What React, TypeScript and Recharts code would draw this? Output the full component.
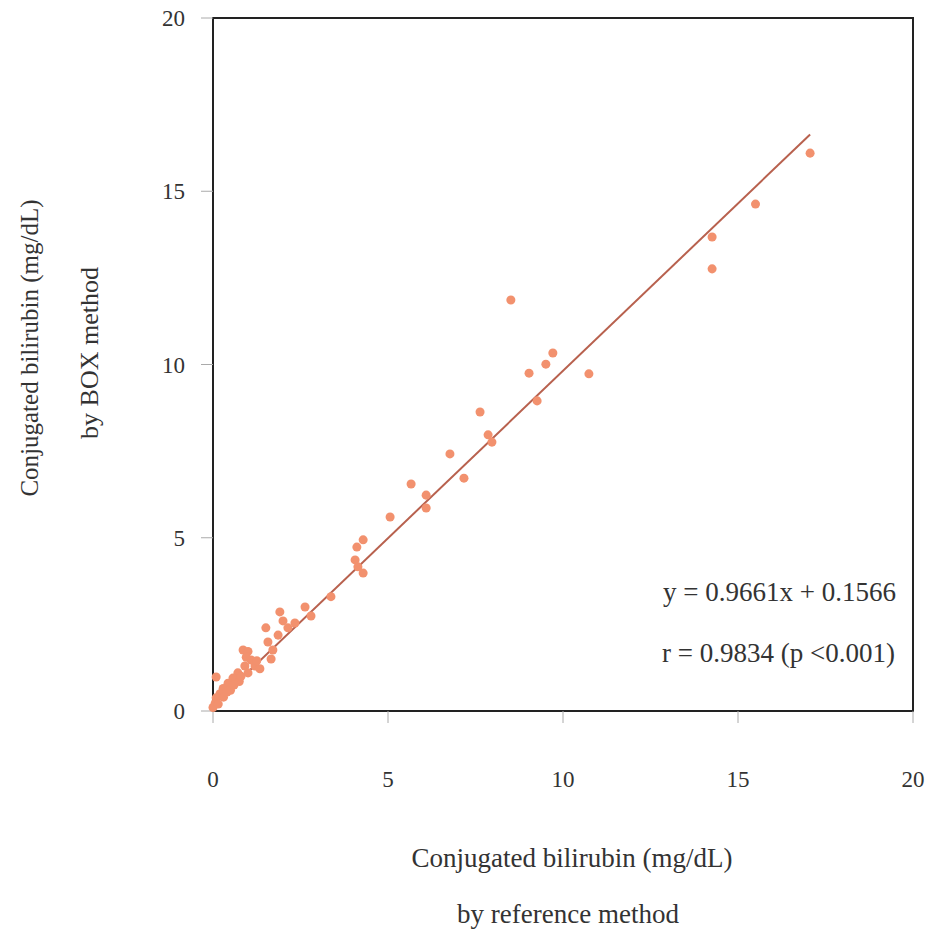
import React from 'react';
import {
  ScatterChart, Scatter, XAxis, YAxis, ZAxis, ReferenceArea, ReferenceLine,
} from 'recharts';

// reference method (x) vs BOX method (y), mg/dL
const refMethod = [
  17.06, 15.5, 14.26, 14.26, 10.74, 9.71, 9.51, 9.26, 9.03, 8.51,
  7.97, 7.86, 7.63, 7.17, 6.77, 6.09, 6.09, 5.66, 5.06, 4.29,
  4.11, 4.06, 4.14, 4.29, 3.37, 2.63, 2.8, 1.91, 2.0, 2.34,
  2.14, 1.51, 1.86, 1.57, 1.71, 1.66, 0.86, 1.0, 1.09, 1.2,
  1.34, 0.91, 0.71, 0.57, 0.43, 0.29, 0.2, 0.09, 0.06, 0.0,
  0.09, 0.15, 0.3, 0.5, 0.75, 1.0, 0.6, 0.4, 0.95, 1.25, 0.8,
];
const boxMethod = [
  16.1, 14.63, 13.68, 12.76, 9.73, 10.33, 10.01, 8.95, 9.75, 11.86,
  7.76, 7.97, 8.63, 6.72, 7.42, 6.23, 5.86, 6.55, 5.6, 4.94,
  4.73, 4.36, 4.16, 3.98, 3.3, 3.0, 2.74, 2.86, 2.6, 2.54,
  2.4, 2.4, 2.19, 1.99, 1.76, 1.5, 1.76, 1.72, 1.47, 1.3,
  1.22, 1.3, 1.1, 0.95, 0.8, 0.65, 0.5, 0.38, 0.22, 0.1,
  0.98, 0.2, 0.4, 0.6, 0.85, 1.1, 0.75, 0.55, 1.55, 1.45, 1.0,
];
const ticks = [0, 5, 10, 15, 20];

const slope = 0.9661;
const intercept = 0.1566;
const fitEndX = 17.06;

const points = refMethod.map((x, i) => ({ x, y: boxMethod[i] }));

const serif = "'Liberation Serif', 'Times New Roman', 'DejaVu Serif', serif";
const tickStyle = { fontSize: 23, fill: '#333', style: { fontFamily: serif } };

export default function App() {
  return (
    <div style={{ position: 'absolute', left: 0, top: 0, width: 932, height: 943, background: '#fff', fontFamily: serif }}>
      <ScatterChart width={932} height={943} margin={{ top: 18, right: 19, bottom: 152, left: 153 }}>
        <XAxis
          type="number"
          dataKey="x"
          domain={[0, 20]}
          ticks={ticks}
          axisLine={false}
          tickLine={{ stroke: '#aaa' }}
          tickSize={12}
          tickMargin={48}
          tick={tickStyle}
          height={80}
        />
        <YAxis
          type="number"
          dataKey="y"
          domain={[0, 20]}
          ticks={ticks}
          axisLine={false}
          tickLine={{ stroke: '#aaa' }}
          tickSize={12}
          tickMargin={16}
          tick={tickStyle}
          width={60}
        />
        <ZAxis range={[90, 90]} />
        <ReferenceArea x1={0} x2={20} y1={0} y2={20} fill="none" stroke="#222" strokeWidth={2} ifOverflow="visible" />
        <ReferenceLine
          segment={[
            { x: 0, y: intercept },
            { x: fitEndX, y: slope * fitEndX + intercept },
          ]}
          stroke="#b8614e"
          strokeWidth={2}
        />
        <Scatter data={points} fill="#f2916e" shape="circle" isAnimationActive={false} />
      </ScatterChart>
      <svg
        width={932}
        height={943}
        style={{ position: 'absolute', left: 0, top: 0, pointerEvents: 'none', fontFamily: serif }}
        fill="#333"
      >
        <text x={663} y={601} fontSize={27}>y = 0.9661x + 0.1566</text>
        <text x={662} y={662} fontSize={27}>r = 0.9834 (p &lt;0.001)</text>
        <text x={572} y={867} fontSize={27} textAnchor="middle">Conjugated bilirubin (mg/dL)</text>
        <text x={568} y={923} fontSize={27} textAnchor="middle">by  reference method</text>
        <text transform="translate(38,348) rotate(-90)" fontSize={25} textAnchor="middle">Conjugated bilirubin (mg/dL)</text>
        <text transform="translate(98,353) rotate(-90)" fontSize={26} textAnchor="middle">by  BOX method</text>
      </svg>
    </div>
  );
}
